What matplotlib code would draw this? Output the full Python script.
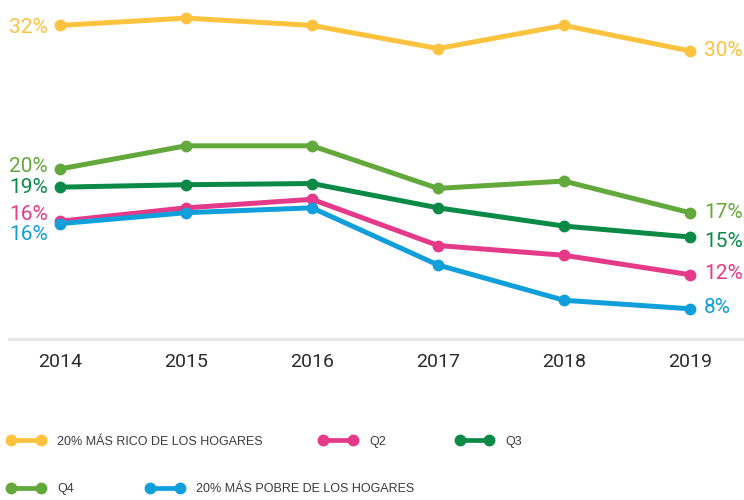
import matplotlib
matplotlib.use("Agg")
import matplotlib.pyplot as plt
from matplotlib.lines import Line2D

years = [2014, 2015, 2016, 2017, 2018, 2019]
rico = [32.1, 32.7, 32.1, 30.2, 32.1, 30.0]
q4 = [20.3, 22.2, 22.2, 18.7, 19.3, 16.7]
q3 = [18.8, 19.0, 19.1, 17.1, 15.6, 14.7]
q2 = [16.0, 17.1, 17.8, 14.0, 13.2, 11.6]
pobre = [15.8, 16.7, 17.1, 12.4, 9.5, 8.8]

names = ["20% MÁS RICO DE LOS HOGARES", "Q2", "Q3", "Q4", "20% MÁS POBRE DE LOS HOGARES"]
start_labels = ["32%", "16%", "19%", "20%", "16%"]
end_labels = ["30%", "12%", "15%", "17%", "8%"]

colors = ["#FDC23E", "#E5398A", "#0B8A47", "#63A83A", "#119FDB"]
series = [rico, q2, q3, q4, pobre]
# label offsets (points): start dy, end dy
start_dy = [-1.2, 4.5, 0, 1.7, -8]
end_dy = [0, 1.2, -3.2, 0, 0.7]

fig = plt.figure(figsize=(7.44, 5.0), dpi=100)
ax = fig.add_axes([9 / 744, 1 - 339.3 / 500, 1 - 9 / 744, 339.3 / 500])
ax.set_xlim(2014 - 51 / 126, 2019 + 54 / 126)
ax.set_ylim(6.29, 34.19)

draw_order = [0, 3, 2, 1, 4]
for i in draw_order:
    ax.plot(years, series[i], color=colors[i], lw=3.6, marker="o", ms=7.5,
            solid_capstyle="round", clip_on=False, zorder=3 + draw_order.index(i))

lab_font = dict(family=["Roboto", "DejaVu Sans"], fontsize=15)
for i in range(5):
    ax.annotate(start_labels[i], (years[0], series[i][0]), xytext=(-8.6, start_dy[i]),
                textcoords="offset points", ha="right", va="center",
                color=colors[i], **lab_font)
    ax.annotate(end_labels[i], (years[-1], series[i][-1]), xytext=(10.3, end_dy[i]),
                textcoords="offset points", ha="left", va="center",
                color=colors[i], **lab_font)

for s in ["top", "left", "right"]:
    ax.spines[s].set_visible(False)
ax.spines["bottom"].set_color("#E4E4E4")
ax.spines["bottom"].set_linewidth(2.0)
ax.set_yticks([])
ax.set_xticks(years)
ax.set_xticklabels([str(y) for y in years], family=["Roboto", "DejaVu Sans"],
                   fontsize=14, color="#2B2B2B")
ax.tick_params(axis="x", length=0, pad=10)
ax.patch.set_alpha(0)

# legend: one small legend per item, placed like the flow layout of the reference
leg_pos = [(7.4, 441.7), (319.4, 441.7), (456.0, 441.7), (7.4, 489.0), (146.4, 489.0)]
leg_font = {"family": ["Liberation Sans", "DejaVu Sans"], "size": 9}
for i in range(5):
    h = Line2D([0, 1], [0, 0], color=colors[i], lw=3.4, marker="o", ms=7.5,
               solid_capstyle="butt")
    x, y = leg_pos[i]
    lg = fig.legend([h], [names[i]], loc="center left",
                    bbox_to_anchor=(x / 744, 1 - y / 500),
                    frameon=False, borderpad=0, borderaxespad=0,
                    handlelength=2.97, handletextpad=1.0, numpoints=2,
                    prop=leg_font)
    for t in lg.get_texts():
        t.set_color("#3A3A3A")

fig.savefig("out.png", dpi=100)
